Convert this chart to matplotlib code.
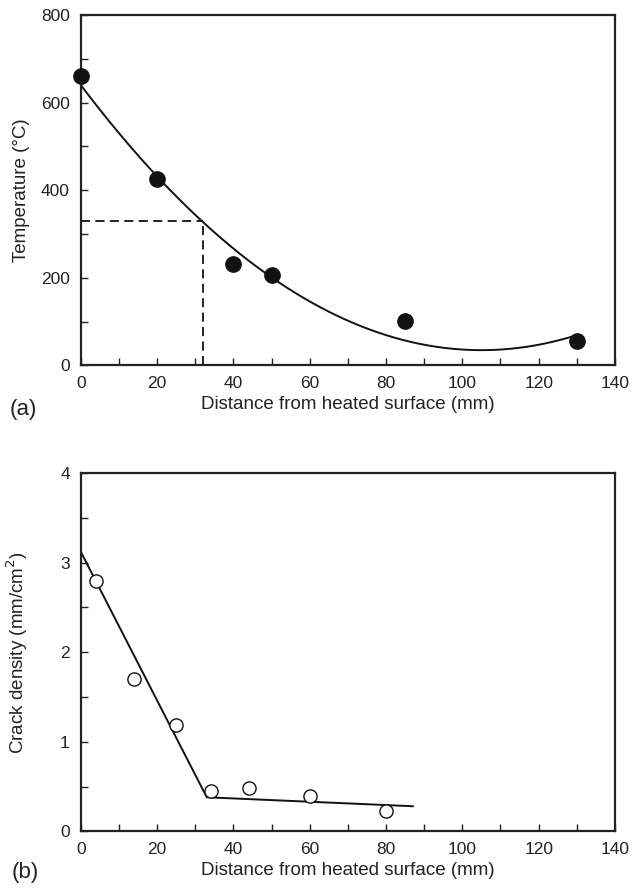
import numpy as np
import matplotlib
matplotlib.use('Agg')
import matplotlib.pyplot as plt
from matplotlib.ticker import MultipleLocator

plt.rcParams['font.family'] = ['Liberation Sans', 'DejaVu Sans']
plt.rcParams['font.size'] = 13

# (a) temperature profile
dist_a = [0, 20, 40, 50, 85, 130]
temp_a = [660, 425, 232, 207, 102, 55]
# quadratic trend curve coefficients
temp_fit = [0.0549, -11.53, 640.0]
dash_x, dash_y = 32, 330

# (b) crack density
dist_b = [4, 14, 25, 34, 44, 60, 80]
crack_b = [2.8, 1.7, 1.19, 0.45, 0.48, 0.39, 0.23]
# bilinear trend line vertices
trend_x = [0, 33, 87]
trend_y = [3.12, 0.38, 0.28]

xlabel = 'Distance from heated surface (mm)'

fig = plt.figure(figsize=(6.32, 8.91), dpi=100)
ax1 = fig.add_axes([0.128, 0.590, 0.845, 0.393])
ax2 = fig.add_axes([0.128, 0.067, 0.845, 0.402])

for ax in (ax1, ax2):
    for s in ax.spines.values():
        s.set_linewidth(1.6)
        s.set_color('#222222')
    ax.tick_params(which='both', direction='in', width=1.0, length=5, pad=8,
                   labelsize=12.5, colors='#222222')
    ax.xaxis.set_major_locator(MultipleLocator(20))
    ax.xaxis.set_minor_locator(MultipleLocator(10))
    ax.set_xlim(0, 140)
    ax.set_xlabel(xlabel, fontsize=13.5, labelpad=3, color='#222222')

xs = np.linspace(0, 130, 300)
ax1.plot(xs, np.polyval(temp_fit, xs), color='#111111', lw=1.4)
ax1.plot([0, dash_x], [dash_y, dash_y], color='#111111', lw=1.3, ls=(0, (5, 3)))
ax1.plot([dash_x, dash_x], [0, dash_y], color='#111111', lw=1.3, ls=(0, (5, 3)))
ax1.plot(dist_a, temp_a, 'o', color='#111111', ms=11, clip_on=False, zorder=5)
ax1.set_ylim(0, 800)
ax1.yaxis.set_major_locator(MultipleLocator(200))
ax1.yaxis.set_minor_locator(MultipleLocator(100))
ax1.set_ylabel('Temperature (°C)', fontsize=13.5, color='#222222')
ax1.yaxis.set_label_coords(-0.096, 0.5)
fig.text(0.016, 0.540, '(a)', fontsize=16, va='center', color='#222222')

ax2.plot(trend_x, trend_y, color='#111111', lw=1.4)
ax2.plot(dist_b, crack_b, 'o', mfc='white', mec='#111111', mew=1.0, ms=9.5, zorder=5)
ax2.set_ylim(0, 4)
ax2.yaxis.set_major_locator(MultipleLocator(1))
ax2.yaxis.set_minor_locator(MultipleLocator(0.5))
ax2.set_ylabel('Crack density (mm/cm$^2$)', fontsize=13.5, color='#222222')
ax2.yaxis.set_label_coords(-0.096, 0.5)
fig.text(0.019, 0.021, '(b)', fontsize=16, va='center', color='#222222')

fig.savefig('out.png', dpi=100)
